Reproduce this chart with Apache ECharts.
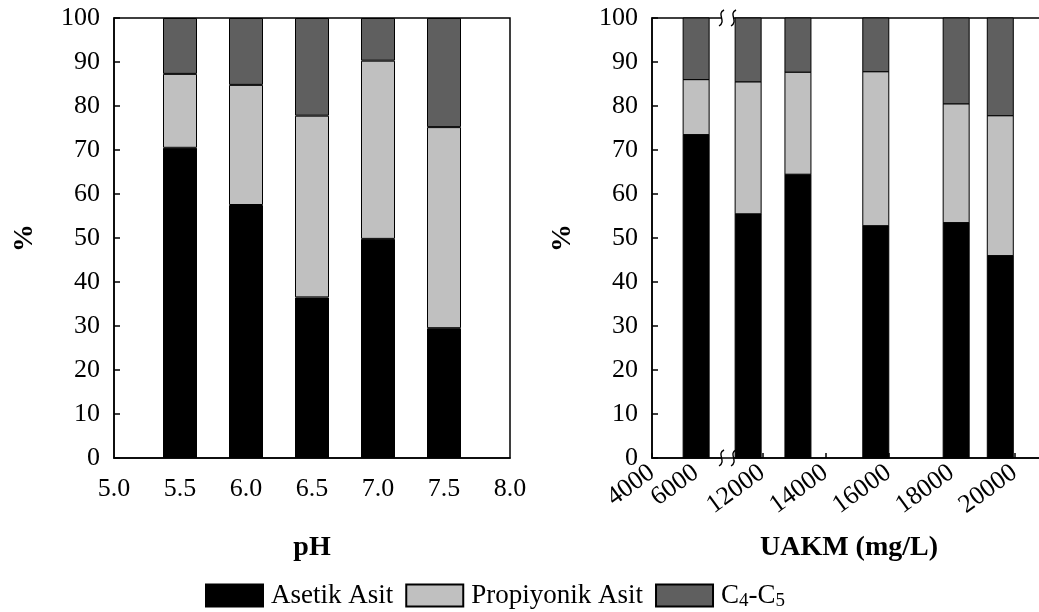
<!DOCTYPE html>
<html><head><meta charset="utf-8">
<script src="https://cdn.jsdelivr.net/npm/echarts@6/dist/echarts.min.js"></script>
<style>html,body{margin:0;padding:0;background:#fff}#c{width:1039px;height:612px}</style>
</head><body><div id="c"></div>
<script>
// ---- data ----
const seriesNames = ['Asetik Asit', 'Propiyonik Asit', 'C4-C5'];
const pH = [5.5, 6.0, 6.5, 7.0, 7.5];
const pHAsetik = [70.5, 57.5, 36.5, 49.8, 29.5];
const pHPropiyonik = [16.8, 27.3, 41.3, 40.5, 45.7];
const pHC4C5 = [12.7, 15.2, 22.2, 9.7, 24.8];
const uakm = [6000, 11550, 13130, 15600, 18150, 19550];
const uakmAsetik = [73.5, 55.5, 64.5, 52.8, 53.5, 46.0];
const uakmPropiyonik = [12.5, 30.0, 23.2, 35.0, 27.0, 31.8];
const uakmC4C5 = [14.0, 14.5, 12.3, 12.2, 19.5, 22.2];
const pHTicks = [5.0, 5.5, 6.0, 6.5, 7.0, 7.5, 8.0];
const uakmTicks = [4000, 6000, 12000, 14000, 16000, 18000, 20000];
const yTicks = [0, 10, 20, 30, 40, 50, 60, 70, 80, 90, 100];
const colors = ['#000000', '#c0c0c0', '#5f5f5f'];

// broken UAKM axis: 4000-6000 compressed segment, then a break, then linear
function uPos(v) { return v <= 8000 ? (v - 4000) * 0.7 : (v - 8500); }
const uLabelMap = {};
uakmTicks.forEach(t => { uLabelMap[Math.round(uPos(t))] = String(t); });
const uLabelsA = uakmTicks.filter(t => t !== 6000).map(uPos);
const uLabelsB = [6000].map(uPos);

const FONT = 'Liberation Serif';
const axisLine = { show: true, lineStyle: { color: '#000', width: 1.5 } };
function yAxis(gi) {
  return {
    type: 'value', gridIndex: gi, min: yTicks[0], max: yTicks[yTicks.length - 1], interval: 10,
    name: '%', nameLocation: 'middle', nameRotate: 90, nameGap: 75,
    nameTextStyle: { fontFamily: FONT, fontSize: 28, fontWeight: 'bold', color: '#000' },
    axisLine: axisLine, axisTick: { show: true, inside: true, length: 6, lineStyle: { color: '#000', width: 1.5 } },
    axisLabel: { fontFamily: FONT, fontSize: 26, color: '#000', margin: 14 },
    splitLine: { show: false }
  };
}
const barStyle = i => ({ color: colors[i], borderColor: '#000', borderWidth: 1 });
const leftVals = [pHAsetik, pHPropiyonik, pHC4C5];
const rightVals = [uakmAsetik, uakmPropiyonik, uakmC4C5];
const pHCats = pHTicks.map(t => t.toFixed(1));
const series = [];
seriesNames.forEach((n, i) => {
  series.push({ type: 'bar', name: n, xAxisIndex: 0, yAxisIndex: 0, stack: 'L', barWidth: 34,
    itemStyle: barStyle(i),
    data: pHTicks.map(t => { const k = pH.indexOf(t); return k < 0 ? null : leftVals[i][k]; }) });
});
// right panel: stacked rectangles drawn through the value axes (x axis is broken)
seriesNames.forEach((n, i) => {
  const data = uakm.map((x, k) => {
    let base = 0;
    for (let j = 0; j < i; j++) base += rightVals[j][k];
    return [uPos(x), base, base + rightVals[i][k]];
  });
  series.push({ type: 'custom', name: n, xAxisIndex: 1, yAxisIndex: 1,
    itemStyle: barStyle(i), encode: { x: 0, y: [1, 2] },
    renderItem: (params, api) => {
      const p0 = api.coord([api.value(0), api.value(1)]);
      const p1 = api.coord([api.value(0), api.value(2)]);
      const w = 26;
      return { type: 'rect',
        shape: { x: p0[0] - w / 2, y: p1[1], width: w, height: p0[1] - p1[1] },
        style: { fill: colors[i], stroke: '#000', lineWidth: 1 } };
    },
    data: data });
});

const labelStyle = { fontFamily: FONT, fontSize: 26, color: '#000', margin: 12, rotate: 36,
  hideOverlap: false, formatter: v => uLabelMap[Math.round(Number(v))] || '' };
const chart = echarts.init(document.getElementById('c'), null, { renderer: 'canvas' });
chart.setOption({
  animation: false,
  backgroundColor: '#fff',
  grid: [
    { left: 114, top: 18, width: 396, height: 440, outerBoundsMode: 'none', show: true, borderColor: '#000', borderWidth: 1.5, backgroundColor: 'transparent' },
    { left: 652, top: 18, width: 394, height: 440, outerBoundsMode: 'none', show: true, borderColor: '#000', borderWidth: 1.5, backgroundColor: 'transparent' }
  ],
  xAxis: [
    { type: 'category', gridIndex: 0, data: pHCats, boundaryGap: false,
      name: 'pH', nameLocation: 'middle', nameGap: 76,
      nameTextStyle: { fontFamily: FONT, fontSize: 28, fontWeight: 'bold', color: '#000' },
      axisLine: axisLine, axisTick: { show: false },
      axisLabel: { fontFamily: FONT, fontSize: 26, color: '#000', margin: 18, interval: 0 },
      splitLine: { show: false } },
    { type: 'value', gridIndex: 1, min: 0, max: 12500, position: 'bottom',
      name: 'UAKM (mg/L)', nameLocation: 'middle', nameGap: 76,
      nameTextStyle: { fontFamily: FONT, fontSize: 28, fontWeight: 'bold', color: '#000' },
      axisLine: axisLine,
      axisTick: { show: true, inside: true, length: 5, customValues: uakmTicks.map(uPos), lineStyle: { color: '#000', width: 1.5 } },
      axisLabel: Object.assign({ customValues: uLabelsA }, labelStyle),
      splitLine: { show: false } },
    { type: 'value', gridIndex: 1, min: 0, max: 12500, position: 'bottom', offset: 0,
      axisLine: { show: false }, axisTick: { show: false },
      axisLabel: Object.assign({ customValues: uLabelsB }, labelStyle),
      splitLine: { show: false } }
  ],
  yAxis: [yAxis(0), yAxis(1)],
  legend: {
    data: seriesNames, left: 205, top: 582, padding: 0, itemWidth: 57, itemHeight: 22, itemGap: 12,
    icon: 'rect',
    textStyle: { fontFamily: FONT, fontSize: 27, color: '#000', padding: [0, 0, 0, 3],
      rich: { n: { fontFamily: FONT, fontSize: 27, color: '#000' },
              s: { fontFamily: FONT, fontSize: 19, color: '#000', padding: [12, 0, 0, 0] } } },
    formatter: name => name === 'C4-C5' ? '{n|C}{s|4}{n|-C}{s|5}' : '{n|' + name + '}'
  },
  series: series
});

// axis break marks on the UAKM axis
const breakPos = 2380;
const pTop = chart.convertToPixel({ xAxisIndex: 1, yAxisIndex: 1 }, [breakPos, 100]);
const pBot = chart.convertToPixel({ xAxisIndex: 1, yAxisIndex: 1 }, [breakPos, 0]);
function curve(dx) {
  return { type: 'bezierCurve',
    shape: { x1: dx + 3, y1: -8, x2: dx - 2, y2: 8, cpx1: dx - 5, cpy1: -4, cpx2: dx + 6, cpy2: 3 },
    style: { fill: null, stroke: '#000', lineWidth: 1.4 } };
}
function breakGroup(p) {
  return { type: 'group', x: p[0], y: p[1], z: 100, children: [
    { type: 'rect', shape: { x: -6, y: -2, width: 12, height: 4 }, style: { fill: '#fff' } },
    curve(-6), curve(6)
  ] };
}
chart.setOption({ graphic: [breakGroup(pTop), breakGroup(pBot)] });
</script></body></html>
